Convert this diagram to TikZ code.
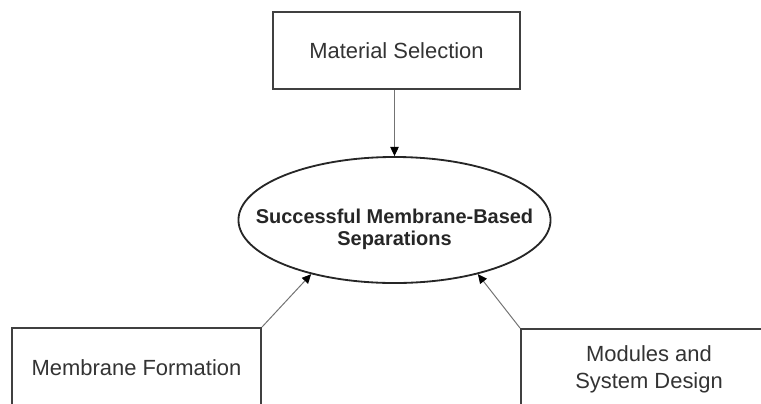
\documentclass[tikz,border=0pt]{standalone}
\usepackage{fontspec}
\setmainfont{Liberation Sans}
\usetikzlibrary{arrows.meta,shapes.geometric}
\tikzset{
	stage/.style={draw=black!75, line width=1.3pt, fill=white, inner sep=0pt, font=\fontsize{15.6}{19}\selectfont, text=black!80, align=center},
	goal/.style={ellipse, draw=black!85, line width=1.3pt, inner sep=0pt, minimum width=7.8cm, minimum height=3.15cm},
	goaltext/.style={font=\bfseries\fontsize{14.2}{15.6}\selectfont, text=black!85, align=center, inner sep=0pt},
	feed/.style={draw=black!55, line width=0.7pt, -{Triangle[length=6.5pt,width=6pt,color=black]}}
}

\begin{document}
\begin{tikzpicture}[x=0.025cm, y=-0.025cm]
	%%%%% START %%%%%
	
	\useasboundingbox (0, 0) rectangle (761, 403);
	\clip (0, 0) rectangle (761, 403);
	
	\node[stage, minimum width=6.175cm, minimum height=1.925cm] (sel) at (396.5, 50.5) {Material Selection};
	
	\node[goal] (sep) at (394.5, 220) {};
	\node[goaltext] (sepText) at (394.5, 229) {Successful Membrane-Based\\Separations};
	
	\node[stage, minimum width=6.225cm, minimum height=2cm] (form) at (136.5, 368) {Membrane Formation};
	\node[stage, minimum width=6.4cm, minimum height=2cm] (design) at (649, 369) {Modules and\\System Design};
	
	\draw[feed] (sep.north |- sel.south) -- (sep.north);
	\draw[feed] (form.north east) -- (sep.213);
	\draw[feed] (design.north west) -- (sep.327);
	
	%%%%% END %%%%%
\end{tikzpicture}
\end{document}
